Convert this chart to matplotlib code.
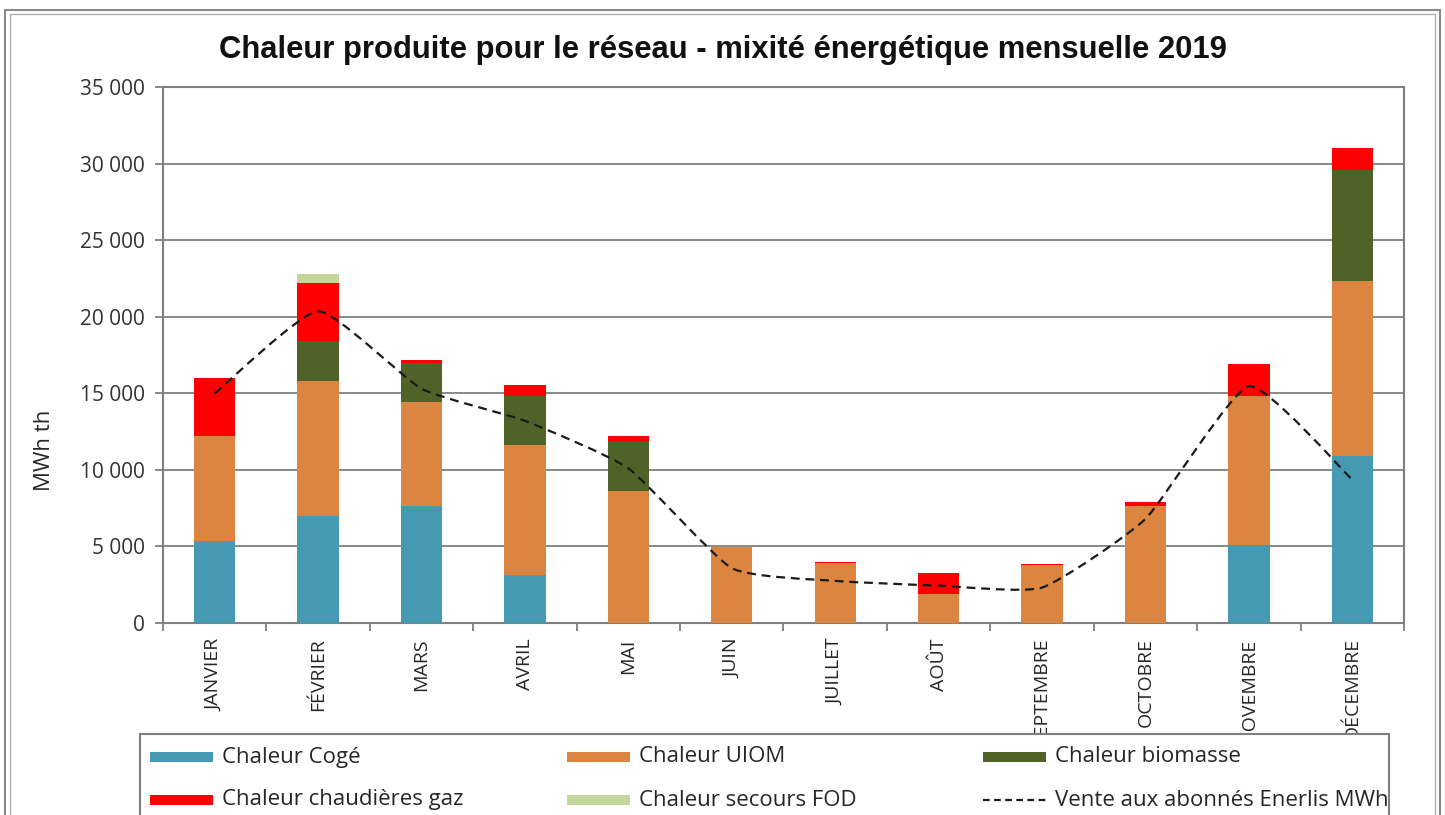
import matplotlib
matplotlib.use("Agg")
import matplotlib.pyplot as plt
import numpy as np
from matplotlib.path import Path
from matplotlib.patches import PathPatch, Rectangle
from matplotlib.lines import Line2D
from matplotlib.transforms import Bbox
from matplotlib.ticker import FuncFormatter, MultipleLocator

months = ["JANVIER", "FÉVRIER", "MARS", "AVRIL", "MAI", "JUIN", "JUILLET",
          "AOÛT", "SEPTEMBRE", "OCTOBRE", "NOVEMBRE", "DÉCEMBRE"]
cogé = [5380, 7000, 7650, 3140, 0, 0, 0, 0, 0, 0, 5100, 10920]
uiom = [6850, 8830, 6780, 8460, 8600, 4990, 3930, 1900, 3780, 7610, 9750, 11400]
biomasse = [0, 2610, 2570, 3250, 3300, 0, 0, 0, 0, 0, 0, 7240]
gaz = [3750, 3780, 180, 720, 280, 0, 60, 1350, 70, 260, 2070, 1440]
fod = [0, 580, 0, 0, 0, 0, 0, 0, 0, 0, 0, 0]
vente = [14980, 20360, 15300, 13200, 10100, 3580, 2750, 2440, 2310, 6800, 15460, 9350]

labels = ["Chaleur Cogé", "Chaleur UIOM", "Chaleur biomasse",
          "Chaleur chaudières gaz", "Chaleur secours FOD",
          "Vente aux abonnés Enerlis MWh"]
colors = ["#4599B0", "#DB8540", "#4F6228", "#FF0000", "#C3D69B"]
line_color = "#1a1a1a"

W, H = 1445, 815
fig = plt.figure(figsize=(W / 100, H / 100), dpi=100)
fig.patch.set_facecolor("white")


def fx(px):
    return px / W


def fy(py):
    return 1 - py / H


# outer frame (double border)
fig.add_artist(Rectangle((fx(5), -0.05), (1440 - 5) / W, (H - 10) / H + 0.05,
                         transform=fig.transFigure, fill=False,
                         edgecolor="#8a8a8a", lw=1.5))
fig.add_artist(Rectangle((fx(10), -0.05), (1435 - 10) / W, (H - 14) / H + 0.05,
                         transform=fig.transFigure, fill=False,
                         edgecolor="#b0b0b0", lw=1.0))

ax = fig.add_axes([fx(163), fy(623), (1404 - 163) / W, (623 - 87) / H])
x = np.arange(len(months))
series = [cogé, uiom, biomasse, gaz, fod]
bottom = np.zeros(len(months))
for vals, c in zip(series, colors):
    v = np.array(vals, dtype=float)
    ax.bar(x, v, width=0.4, bottom=bottom, color=c, zorder=3, linewidth=0)
    bottom += v

# lightly smoothed line (Bezier through the monthly values)
pts = np.column_stack([x, np.array(vente, dtype=float)])
verts = [tuple(pts[0])]
codes = [Path.MOVETO]
n = len(pts)
k = 12.0
for i in range(n - 1):
    p0 = pts[i - 1] if i > 0 else pts[i]
    p1 = pts[i]
    p2 = pts[i + 1]
    p3 = pts[i + 2] if i + 2 < n else pts[i + 1]
    c1 = p1 + (p2 - p0) / k
    c2 = p2 - (p3 - p1) / k
    verts += [tuple(c1), tuple(c2), tuple(p2)]
    codes += [Path.CURVE4, Path.CURVE4, Path.CURVE4]
ax.add_patch(PathPatch(Path(verts, codes), fill=False, edgecolor=line_color,
                       lw=1.6, linestyle=(0, (4, 2.6)), zorder=4))

ax.set_xlim(-0.5, len(months) - 0.5)
ax.set_ylim(0, 35000)
ax.yaxis.set_major_locator(MultipleLocator(5000))
ax.yaxis.set_major_formatter(FuncFormatter(lambda v, p: f"{int(v):,}".replace(",", " ")))
ax.grid(axis="y", color="#7f7f7f", lw=1.3, zorder=1)
for s in ax.spines.values():
    s.set_color("#7f7f7f")
    s.set_linewidth(1.5)

ax.set_xticks(x)
ax.set_xticklabels(months, rotation=90, va="top", ha="center",
                   fontfamily="Open Sans", fontsize=14, color="#262626")
ax.set_xticks(np.arange(-0.5, len(months), 1), minor=True)
ax.tick_params(axis="x", which="major", length=0, pad=11)
ax.tick_params(axis="x", which="minor", length=6, color="#7f7f7f", width=1.3)
ax.tick_params(axis="y", length=6, color="#7f7f7f", width=1.3, pad=7,
               labelsize=15, labelcolor="#333333")
for t in ax.get_yticklabels():
    t.set_fontfamily("Open Sans")

ax.set_ylabel("MWh th", fontfamily="Open Sans", fontsize=16, color="#262626")
ax.yaxis.set_label_coords(fx(55), fy(450), transform=fig.transFigure)

fig.text(fx(723), fy(50),
         "Chaleur produite pour le réseau - mixité énergétique mensuelle 2019",
         ha="center", va="center", fontfamily="Liberation Sans",
         fontweight="bold", fontsize=22.3, color="#111111")

# legend drawn as a fixed grid of three equal columns (as in the spreadsheet)
leg_left, leg_top, leg_right = 140, 734, 1389
fig.add_artist(Rectangle((fx(leg_left), fy(830)), (leg_right - leg_left) / W,
                         (830 - leg_top) / H, transform=fig.transFigure,
                         facecolor="white", edgecolor="#7f7f7f", lw=1.5,
                         zorder=10))
clip = Bbox.from_extents(leg_left + 1, 0, leg_right - 1, H)
col_x = [150, 567, 983]
row_y = [757, 800]
entries = [(0, 0, 0), (1, 0, 1), (2, 0, 2), (3, 1, 0), (4, 1, 1), (5, 1, 2)]
for idx, r, c in entries:
    x0 = col_x[c]
    y0 = row_y[r]
    if idx < 5:
        fig.add_artist(Rectangle((fx(x0), fy(y0 + 5)), 63 / W, 10 / H,
                                 transform=fig.transFigure, facecolor=colors[idx],
                                 edgecolor="none", zorder=11))
    else:
        fig.add_artist(Line2D([fx(x0), fx(x0 + 63)], [fy(y0), fy(y0)],
                              transform=fig.transFigure, color=line_color,
                              lw=1.6, linestyle=(0, (3, 2)), zorder=11))
    t = fig.text(fx(x0 + 72), fy(y0), labels[idx], ha="left", va="center",
                 fontfamily="Open Sans", fontsize=16, color="#262626", zorder=12)
    t.set_clip_box(clip)
    t.set_clip_on(True)

fig.savefig("out.png", dpi=100)
